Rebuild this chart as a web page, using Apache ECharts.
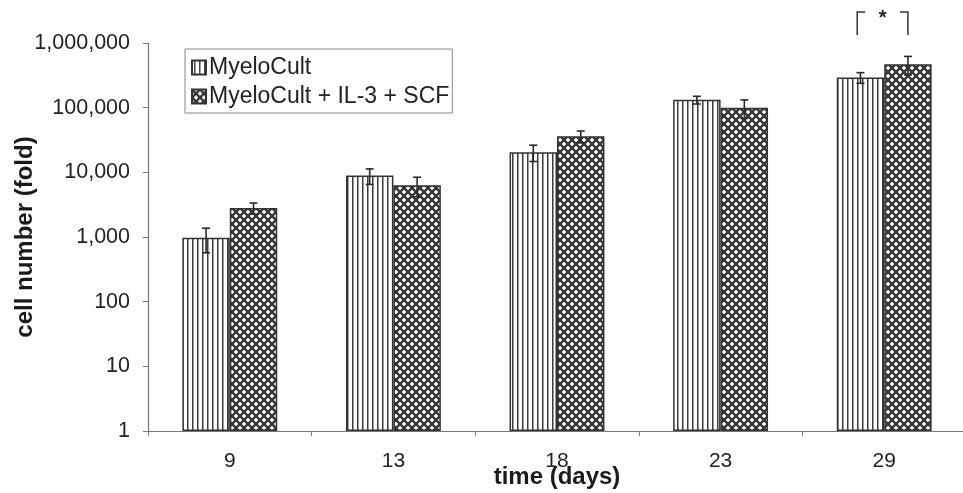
<!DOCTYPE html>
<html>
<head>
<meta charset="utf-8">
<script src="https://cdn.jsdelivr.net/npm/echarts@6/dist/echarts.min.js"></script>
<style>
html,body{margin:0;padding:0;background:#fff;}
#c{width:963px;height:493px;}
</style>
</head>
<body>
<div id="c"></div>
<script>
// ---- data ----
const categories = ['9', '13', '18', '23', '29'];
const seriesNames = ['MyeloCult', 'MyeloCult + IL-3 + SCF'];
const myeloCult = [970, 8900, 20500, 132000, 293000];
const myeloCultSD = [400, 2400, 5800, 18000, 55000];
const combo = [2800, 6300, 36000, 100000, 470000];
const comboSD = [550, 2100, 7500, 32000, 150000];
const significantCategory = 4;
const significanceLabel = '*';
const yAxisTitle = 'cell number (fold)';
const xAxisTitle = 'time (days)';

// ---- patterns ----
function verticalPattern() {
  const c = document.createElement('canvas');
  c.width = 5; c.height = 10;
  const g = c.getContext('2d');
  g.fillStyle = '#ffffff'; g.fillRect(0, 0, 5, 10);
  g.fillStyle = '#3c3c3c'; g.fillRect(2, 0, 1.5, 10);
  return c;
}
function crossPattern() {
  const c = document.createElement('canvas');
  c.width = 8; c.height = 8;
  const g = c.getContext('2d');
  g.fillStyle = '#ffffff'; g.fillRect(0, 0, 8, 8);
  g.strokeStyle = '#353535'; g.lineWidth = 2.4;
  g.beginPath();
  g.moveTo(-2, -2); g.lineTo(10, 10);
  g.moveTo(-2, 10); g.lineTo(10, -2);
  g.stroke();
  return c;
}
const fillA = { image: verticalPattern(), repeat: 'repeat' };
const fillB = { image: crossPattern(), repeat: 'repeat' };

const FONT = "'Liberation Sans', Arial, sans-serif";
const BAR_GAP = 0.42;
const halfBarFrac = (1 - BAR_GAP) / 4;

function errData(vals, sds) {
  return vals.map((v, i) => [i, v - sds[i], v + sds[i]]);
}
function errorRenderer(sign) {
  return function (params, api) {
    const idx = api.value(0);
    const lo = api.coord([idx, api.value(1)]);
    const hi = api.coord([idx, api.value(2)]);
    const band = api.size([1, 0])[0];
    const x = hi[0] + sign * band * halfBarFrac;
    const cap = 4;
    const st = { stroke: '#2a2a2a', lineWidth: 1.6 };
    return {
      type: 'group',
      children: [
        { type: 'line', shape: { x1: x, y1: hi[1], x2: x, y2: lo[1] }, style: st },
        { type: 'line', shape: { x1: x - cap, y1: hi[1], x2: x + cap, y2: hi[1] }, style: st },
        { type: 'line', shape: { x1: x - cap, y1: lo[1], x2: x + cap, y2: lo[1] }, style: st }
      ]
    };
  };
}

const chart = echarts.init(document.getElementById('c'), null, { renderer: 'canvas' });
chart.setOption({
  backgroundColor: '#ffffff',
  animation: false,
  textStyle: { fontFamily: FONT },
  grid: { left: 148, top: 43, bottom: 62, width: 818, containLabel: false, outerBoundsMode: 'none' },
  legend: {
    orient: 'vertical',
    left: 185, top: 49,
    data: seriesNames,
    itemWidth: 14, itemHeight: 14, itemGap: 6,
    padding: [7, 3, 5, 6],
    borderColor: '#888', borderWidth: 1,
    textStyle: { fontSize: 23, color: '#222', fontFamily: FONT, padding: [0, 0, 0, -2] },
    icon: 'rect'
  },
  xAxis: {
    type: 'category',
    data: categories,
    axisLine: { lineStyle: { color: '#777', width: 1.2 } },
    axisTick: { show: true, length: 5, lineStyle: { color: '#777' } },
    axisLabel: { fontSize: 21, color: '#222', margin: 20, fontFamily: FONT },
    name: xAxisTitle,
    nameLocation: 'middle',
    nameGap: 34,
    nameMoveOverlap: false,
    nameTextStyle: { fontSize: 24, fontWeight: 'bold', color: '#1a1a1a', fontFamily: FONT }
  },
  yAxis: {
    type: 'log',
    logBase: 10,
    min: 1, max: 1000000,
    splitLine: { show: false },
    axisLine: { show: true, lineStyle: { color: '#777', width: 1.2 } },
    axisTick: { show: true, length: 5, lineStyle: { color: '#777' } },
    axisLabel: {
      fontSize: 21.5, color: '#222', margin: 18, fontFamily: FONT,
      formatter: v => Number(v).toLocaleString('en-US')
    },
    name: yAxisTitle,
    nameLocation: 'middle',
    nameGap: 111,
    nameRotate: 90,
    nameMoveOverlap: false,
    nameTextStyle: { fontSize: 24, fontWeight: 'bold', color: '#1a1a1a', fontFamily: FONT }
  },
  series: [
    {
      name: seriesNames[0], type: 'bar', data: myeloCult,
      barGap: '0%', barCategoryGap: (BAR_GAP * 100) + '%',
      itemStyle: { color: fillA, borderColor: '#333', borderWidth: 1.5 }
    },
    {
      name: seriesNames[1], type: 'bar', data: combo,
      barGap: '0%', barCategoryGap: (BAR_GAP * 100) + '%',
      itemStyle: { color: fillB, borderColor: '#333', borderWidth: 1.5 }
    },
    {
      type: 'custom', silent: true, clip: false,
      renderItem: errorRenderer(-1),
      encode: { x: 0, y: [1, 2] },
      data: errData(myeloCult, myeloCultSD), z: 5
    },
    {
      type: 'custom', silent: true, clip: false,
      renderItem: errorRenderer(1),
      encode: { x: 0, y: [1, 2] },
      data: errData(combo, comboSD), z: 5
    },
    {
      type: 'custom', silent: true, clip: false,
      data: [[significantCategory, 1000000]],
      encode: { x: 0, y: 1 },
      renderItem: function (params, api) {
        const c = api.coord([api.value(0), api.value(1)]);
        const band = api.size([1, 0])[0];
        const xl = c[0] - band * 0.165;
        const xr = c[0] + band * 0.145;
        const yt = c[1] - 31;
        const yb = c[1] - 8;
        const st = { stroke: '#333', lineWidth: 1.5, fill: null };
        return {
          type: 'group',
          children: [
            { type: 'polyline', shape: { points: [[xl, yb], [xl, yt], [xl + 8, yt]] }, style: st },
            { type: 'polyline', shape: { points: [[xr - 8, yt], [xr, yt], [xr, yb]] }, style: st },
            { type: 'text', style: { text: significanceLabel, x: (xl + xr) / 2, y: yt + 6, align: 'center', verticalAlign: 'middle', font: 'bold 20px ' + FONT, fill: '#222' } }
          ]
        };
      },
      z: 5
    }
  ]
});
</script>
</body>
</html>
